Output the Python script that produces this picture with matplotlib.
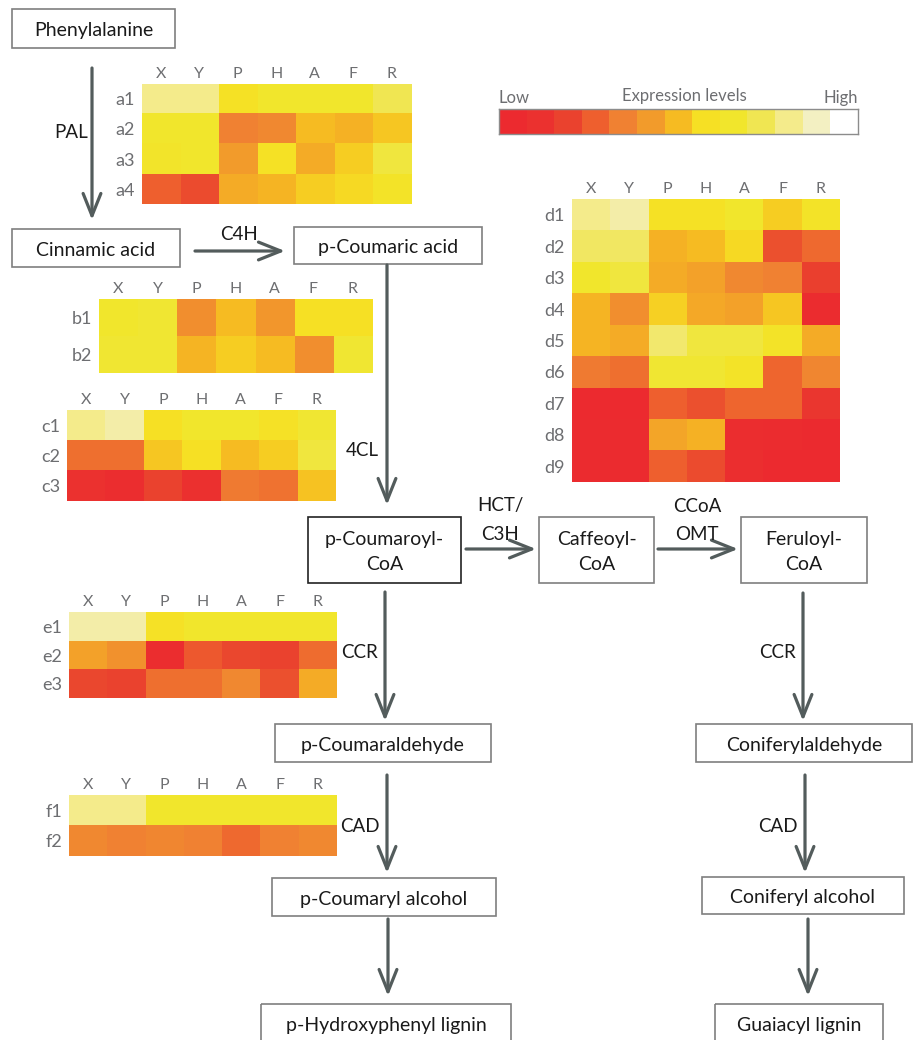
#!/usr/bin/env python3
"""
Lignin biosynthesis pathway with expression heatmaps per enzyme family.
"""

import numpy as np
import matplotlib
matplotlib.use("Agg")
import matplotlib.pyplot as plt
from matplotlib.colors import LinearSegmentedColormap
from matplotlib.patches import Rectangle, FancyArrowPatch

plt.rcParams["font.family"] = ["Lato", "DejaVu Sans"]

W, H = 919, 1040

# colour scale, low -> high (13 steps)
SCALE_COLORS = ["#EC2A2F", "#EB3230", "#EA432E", "#EE5F2E", "#F08132", "#F39C2B",
                "#F6BB22", "#F7E024", "#F1E62C", "#F0E650", "#F5EB8A", "#F3F0C2",
                "#FFFFFF"]
SCALE_LEVELS = np.arange(13)

SAMPLES = ["X", "Y", "P", "H", "A", "F", "R"]

# expression levels, 0 (low) .. 12 (high)
a_rows = ["a1", "a2", "a3", "a4"]
a_vals = [[10, 10, 7.2, 8, 8, 8, 9],
          [8, 8, 4, 4.3, 6, 5.7, 6.3],
          [7.8, 8, 5, 7.2, 5.5, 6.5, 8.5],
          [3, 2.3, 5.5, 5.8, 6.5, 6.8, 7.5]]

b_rows = ["b1", "b2"]
b_vals = [[8, 8.2, 4.5, 6, 4.8, 7, 7],
          [8.2, 8.2, 5.8, 6.5, 6, 4.5, 8.2]]

c_rows = ["c1", "c2", "c3"]
c_vals = [[10, 10.5, 7, 8, 8, 7.3, 8.2],
          [3.5, 3.5, 6.3, 7, 6, 6.5, 8.5],
          [1, 0.5, 2, 0.8, 3.8, 3.6, 6.2]]

d_rows = ["d1", "d2", "d3", "d4", "d5", "d6", "d7", "d8", "d9"]
d_vals = [[10, 10.5, 7.2, 7.2, 8, 6.5, 7.5],
          [9.3, 9.3, 5.7, 6, 6.8, 2.5, 3.3],
          [8, 8.5, 5.5, 5.2, 4.3, 4, 1.8],
          [5.8, 4.5, 6.6, 5.4, 5.2, 6.3, 0.3],
          [5.8, 5.5, 9.5, 8.5, 8.5, 7.5, 5.5],
          [3.8, 3.5, 8.2, 8.2, 7.5, 3.2, 4.2],
          [0, 0, 3, 2.5, 3.2, 3.2, 1.3],
          [0.2, 0.2, 5.3, 5.7, 0.5, 0.3, 0.1],
          [0.2, 0.2, 3, 2.3, 0.6, 0, 0]]

e_rows = ["e1", "e2", "e3"]
e_vals = [[10.5, 10.5, 7.3, 8, 8, 8, 8],
          [5.2, 4.6, 0.5, 2.8, 2.2, 2, 3.4],
          [2.2, 2, 3.5, 3.5, 4.3, 2.5, 5.5]]

f_rows = ["f1", "f2"]
f_vals = [[10, 10, 8, 8, 8, 8, 8],
          [4.3, 4, 4.2, 4, 3.3, 4, 4.3]]

# heatmap placement in pixels: left, top, right, bottom
HEATMAPS = [
    (a_rows, a_vals, (141.5, 84, 411, 204)),
    (b_rows, b_vals, (99, 299, 372, 373)),
    (c_rows, c_vals, (67, 410, 336, 501)),
    (d_rows, d_vals, (572, 199, 840, 482)),
    (e_rows, e_vals, (69, 612, 337, 698)),
    (f_rows, f_vals, (69, 795, 337, 856)),
]

# compound boxes: text, left, top, right, bottom, edge colour
BOXES = [
    ("Phenylalanine", 12, 9, 175, 48, "#7f7f7f"),
    ("Cinnamic acid", 12, 229, 180, 267, "#7f7f7f"),
    ("p-Coumaric acid", 294, 227, 482, 264, "#7f7f7f"),
    ("p-Coumaroyl-\nCoA", 308, 517, 461, 583, "#222222"),
    ("Caffeoyl-\nCoA", 539, 517, 654, 583, "#7f7f7f"),
    ("Feruloyl-\nCoA", 741, 517, 867, 583, "#7f7f7f"),
    ("p-Coumaraldehyde", 275, 724, 491, 762, "#7f7f7f"),
    ("Coniferylaldehyde", 696, 724, 912, 762, "#7f7f7f"),
    ("p-Coumaryl alcohol", 272, 878, 496, 916, "#7f7f7f"),
    ("Coniferyl alcohol", 702, 877, 904, 914, "#7f7f7f"),
    ("p-Hydroxyphenyl lignin", 261, 1004, 511, 1060, "#7f7f7f"),
    ("Guaiacyl lignin", 715, 1004, 883, 1060, "#7f7f7f"),
]

# arrows: x0, y0, x1, y1
ARROWS = [
    (92, 68, 92, 220),
    (195, 251, 285, 251),
    (387, 265, 387, 505),
    (466, 549, 536, 549),
    (658, 549, 738, 549),
    (385, 592, 385, 721),
    (387, 775, 387, 873),
    (388, 919, 388, 996),
    (803, 593, 803, 721),
    (805, 775, 805, 873),
    (808, 919, 808, 996),
]

# enzyme labels: text, x, y
ENZYMES = [
    ("PAL", 71, 132),
    ("C4H", 239, 235),
    ("4CL", 362, 451),
    ("HCT/", 500, 506),
    ("C3H", 500, 534),
    ("CCoA", 697, 506),
    ("OMT", 697, 534),
    ("CCR", 360, 653),
    ("CAD", 360, 826),
    ("CCR", 777, 653),
    ("CAD", 778, 826),
]

LABEL_GRAY = "#6d6e71"
ARROW_COLOR = "#535c5c"

cmap = LinearSegmentedColormap.from_list("expr", SCALE_COLORS, N=256)


def px_axes(fig, left, top, right, bottom):
    return fig.add_axes([left / W, 1 - bottom / H, (right - left) / W, (bottom - top) / H])


def draw_heatmap(fig, rows, vals, box):
    ax = px_axes(fig, *box)
    ax.imshow(np.array(vals), cmap=cmap, vmin=0, vmax=12, aspect="auto",
              interpolation="nearest")
    ax.set_xticks(range(len(SAMPLES)))
    ax.set_xticklabels(SAMPLES, fontsize=11.5, color=LABEL_GRAY)
    ax.set_yticks(range(len(rows)))
    ax.set_yticklabels(rows, fontsize=13, color=LABEL_GRAY)
    ax.xaxis.tick_top()
    ax.tick_params(axis="x", length=0, pad=2)
    ax.tick_params(axis="y", length=0, pad=5)
    for s in ax.spines.values():
        s.set_visible(False)


fig = plt.figure(figsize=(W / 100, H / 100), dpi=100)
ax = fig.add_axes([0, 0, 1, 1])
ax.set_xlim(0, W)
ax.set_ylim(H, 0)
ax.axis("off")

for text, l, t, r, b, ec in BOXES:
    ax.add_patch(Rectangle((l, t), r - l, b - t, fill=False, edgecolor=ec, lw=1.2))
    cy = (t + b) / 2 + 2 if b <= H else t + 22
    ax.text((l + r) / 2, cy, text, ha="center", va="center", fontsize=14,
            color="#1a1a1a", linespacing=1.5)

for x0, y0, x1, y1 in ARROWS:
    ax.add_patch(FancyArrowPatch((x0, y0), (x1, y1),
                                 arrowstyle="->,head_length=0.8,head_width=0.32",
                                 mutation_scale=20, color=ARROW_COLOR, lw=2.3,
                                 shrinkA=0, shrinkB=0))

for text, x, y in ENZYMES:
    ax.text(x, y, text, ha="center", va="center", fontsize=13.5, color="#1a1a1a")

for rows, vals, box in HEATMAPS:
    draw_heatmap(fig, rows, vals, box)

# colour legend
cax = px_axes(fig, 499, 109, 858, 134)
cax.imshow(SCALE_LEVELS[np.newaxis, :], cmap=cmap, vmin=0, vmax=12, aspect="auto")
cax.set_xticks([])
cax.set_yticks([])
for s in cax.spines.values():
    s.set_edgecolor("#8c8c8c")
    s.set_linewidth(1.0)
ax.text(499, 98, "Low", ha="left", va="center", fontsize=12, color=LABEL_GRAY)
ax.text(684, 96, "Expression levels", ha="center", va="center", fontsize=12, color=LABEL_GRAY)
ax.text(858, 98, "High", ha="right", va="center", fontsize=12, color=LABEL_GRAY)

fig.savefig("out.png", dpi=100)
